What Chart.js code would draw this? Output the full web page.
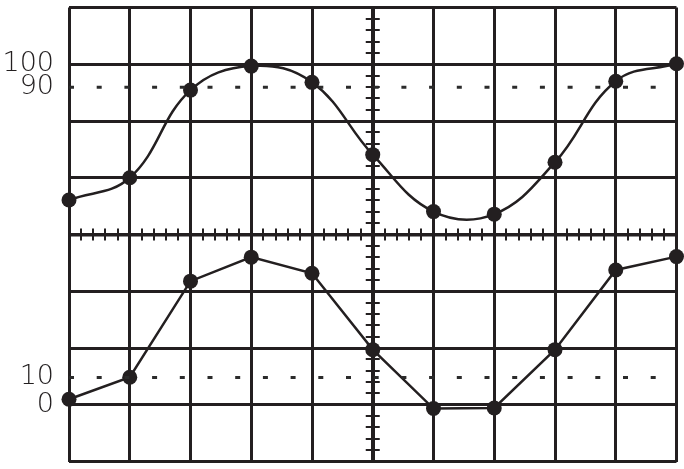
<!DOCTYPE html>
<html>
<head>
<meta charset="utf-8">
<script src="https://cdn.jsdelivr.net/npm/chart.js@4"></script>
<style>
  html, body { margin: 0; padding: 0; background: #ffffff; }
  #wrap { width: 684px; height: 469px; }
</style>
</head>
<body>
<div id="wrap"><canvas id="c" width="684" height="469"></canvas></div>
<script>
// ---- data ----
const divisions = [0, 1, 2, 3, 4, 5, 6, 7, 8, 9, 10];
const topTrace = [40.7, 50.4, 88.7, 99.2, 92.1, 60.5, 35.6, 34.5, 57.2, 92.6, 100.2];
const bottomTrace = [2.0, 10.1, 45.3, 54.1, 48.2, 20.2, -1.4, -1.2, 20.2, 49.4, 54.3];
const topTickLabels = [90, 100];
const bottomTickLabels = [0, 10];
const topMarker = 90;
const bottomMarker = 10;

// axis ranges of the two traces (screen is 8 vertical divisions)
const TOP_MIN = -73.6, TOP_MAX = 124.8;
const BOT_MIN = -20.8, BOT_MAX = 145.6;
const NDIV_Y = 8;

const INK = '#231f20';
const toXY = (vals) => vals.map((v, i) => ({ x: divisions[i], y: v }));
const hline = (v) => [{ x: divisions[0], y: v }, { x: divisions[divisions.length - 1], y: v }];
const toDiv = (v, lo, hi) => (v - lo) / (hi - lo) * NDIV_Y;

// label ticks on the screen (position in divisions -> text)
const labelTicks = [
  ...topTickLabels.map(v => ({ value: toDiv(v, TOP_MIN, TOP_MAX), text: String(v) })),
  ...bottomTickLabels.map(v => ({ value: toDiv(v, BOT_MIN, BOT_MAX), text: String(v) }))
];

const minorTicks = {
  id: 'minorTicks',
  beforeDatasetsDraw(chart) {
    const ctx = chart.ctx;
    const xs = chart.scales.x, yg = chart.scales.yg;
    const cx = xs.getPixelForValue(5), cy = yg.getPixelForValue(4);
    ctx.save();
    ctx.strokeStyle = INK;
    ctx.lineWidth = 2;
    ctx.beginPath();
    for (let k = 1; k < 50; k++) {
      const px = Math.round(xs.getPixelForValue(k * 0.2));
      ctx.moveTo(px, cy - 6);
      ctx.lineTo(px, cy + 6);
    }
    for (let k = 1; k < 40; k++) {
      const py = Math.round(yg.getPixelForValue(k * 0.2));
      ctx.moveTo(cx - 7, py);
      ctx.lineTo(cx + 7, py);
    }
    ctx.stroke();
    ctx.restore();
  }
};

const labelFont = { family: "'DejaVu Sans', 'Liberation Sans', sans-serif", size: 27, weight: '300' };

new Chart(document.getElementById('c'), {
  type: 'line',
  data: {
    datasets: [
      {
        data: hline(topMarker), yAxisID: 'yTop',
        borderColor: '#2b2b2b', borderWidth: 3, borderDash: [5, 22.7],
        pointRadius: 0, fill: false
      },
      {
        data: hline(bottomMarker), yAxisID: 'yBot',
        borderColor: '#2b2b2b', borderWidth: 3, borderDash: [5, 22.7],
        pointRadius: 0, fill: false
      },
      {
        data: toXY(topTrace), yAxisID: 'yTop',
        borderColor: INK, borderWidth: 2.5, tension: 0.4,
        pointRadius: 7.5, pointBackgroundColor: INK, pointBorderWidth: 0,
        fill: false, clip: false
      },
      {
        data: toXY(bottomTrace), yAxisID: 'yBot',
        borderColor: INK, borderWidth: 2.5, tension: 0,
        pointRadius: 7.5, pointBackgroundColor: INK, pointBorderWidth: 0,
        fill: false, clip: false
      }
    ]
  },
  options: {
    responsive: false,
    animation: false,
    events: [],
    layout: { padding: { top: 5, right: 5, bottom: 6, left: 0 } },
    plugins: { legend: { display: false }, tooltip: { enabled: false } },
    scales: {
      x: {
        type: 'linear', min: 0, max: 10,
        ticks: { display: false, stepSize: 1 },
        grid: {
          color: INK, drawTicks: false,
          lineWidth: (c) => (c.tick && c.tick.value === 5 ? 4 : 3)
        },
        border: { display: false },
        afterFit: (s) => { s.height = 0; s.paddingLeft = 0; s.paddingRight = 0; }
      },
      yTop: { type: 'linear', display: false, min: TOP_MIN, max: TOP_MAX },
      yBot: { type: 'linear', display: false, min: BOT_MIN, max: BOT_MAX },
      yl: {
        type: 'linear', position: 'left', weight: 10,
        min: 0, max: NDIV_Y,
        afterBuildTicks: (s) => { s.ticks = labelTicks.map(t => ({ value: t.value })); },
        ticks: {
          color: INK, font: labelFont, padding: 15,
          callback: (val, i) => labelTicks[i].text
        },
        grid: { display: false, drawTicks: false },
        border: { display: false },
        afterFit: (s) => { s.width = 69; s.paddingTop = 0; s.paddingBottom = 0; }
      },
      yg: {
        type: 'linear', position: 'left', weight: 0,
        min: 0, max: NDIV_Y,
        ticks: { display: false, stepSize: 1 },
        grid: {
          color: INK, drawTicks: false,
          lineWidth: (c) => (c.tick && c.tick.value === 4 ? 3.5 : 3)
        },
        border: { display: false },
        afterFit: (s) => { s.width = 0; s.paddingTop = 0; s.paddingBottom = 0; }
      }
    }
  },
  plugins: [minorTicks]
});
</script>
</body>
</html>
